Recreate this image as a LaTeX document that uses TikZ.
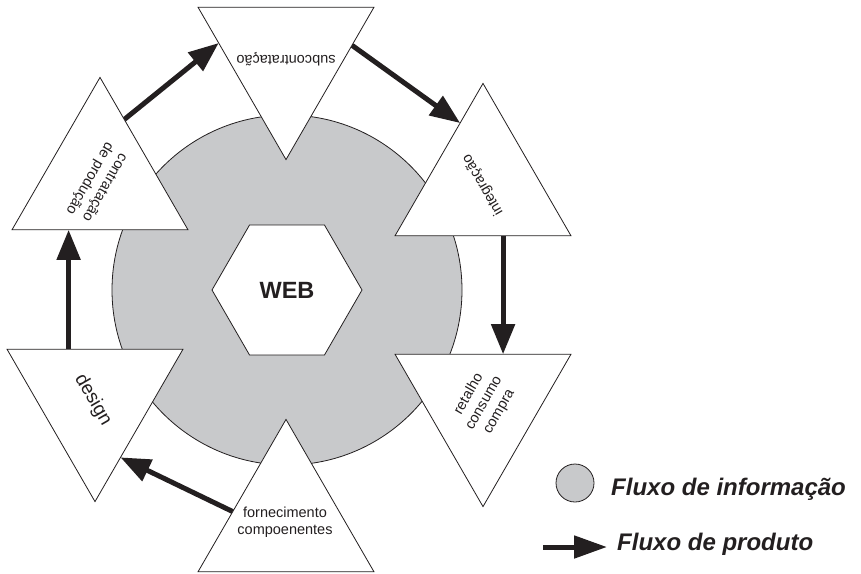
\documentclass[tikz,border=0pt]{standalone}
\usepackage{fontspec}
\setmainfont{Liberation Sans}
\usetikzlibrary{shapes.geometric,arrows.meta,calc,backgrounds}
\definecolor{ink}{RGB}{35,31,32}
\definecolor{infogray}{RGB}{200,201,203}
\begin{document}
\begin{tikzpicture}[x=1pt,y=1pt,
  tri/.style={regular polygon, regular polygon sides=3, minimum size=203.2pt,
    inner sep=0pt, outer sep=0pt, draw=ink, line width=0.8pt, fill=white},
  downtri/.style={tri, shape border rotate=180},
  lbl/.style={text=ink, font=\fontsize{14.5}{17.5}\selectfont, align=center, inner sep=0pt},
  flow/.style={draw=ink, line width=5pt, -{Triangle[length=30pt,width=23pt]}},
  legendtxt/.style={text=ink, font=\fontsize{24}{28}\selectfont\bfseries\itshape,
    anchor=base west, inner sep=0pt}
]
\useasboundingbox (0,0) rectangle (861,-573);

% information flow disc with the web hexagon
\node[circle, draw=ink, line width=0.8pt, fill=infogray, minimum size=350pt, inner sep=0pt] (info) at (287,-290) {};
\node[regular polygon, regular polygon sides=6, minimum size=150pt,
  inner sep=0pt, draw=ink, line width=0.8pt, fill=white, text=ink,
  font=\fontsize{23.5}{28}\selectfont\bfseries] (web) at (287,-290) {WEB};

% stages of the chain
\node[tri]     (t1) at (100,-179) {};
\node[downtri] (t2) at (286,-58)  {};
\node[tri]     (t3) at (483,-185) {};
\node[downtri] (t4) at (483,-405) {};
\node[downtri] (t5) at (95,-400)  {};
\node[tri]     (t6) at (286,-521) {};

\node[lbl, rotate=240] (l1) at (97,-183)  {contratação\\de produção};
\node[lbl, rotate=180] (l2) at (286,-59)  {subcontratação};
\node[lbl, rotate=120] (l3) at (483,-185) {integração};
\node[lbl, rotate=60]  (l4) at (484,-403) {retalho\\consumo\\compra};
\node[lbl, rotate=300, font=\fontsize{19}{22}\selectfont] (l5) at (93,-400) {design};
\node[lbl]             (l6) at (285,-522) {fornecimento\\compoenentes};

% attachment points of the product flow on the triangle sides
\coordinate (a1s) at ($(t1.corner 1)!0.276!(t1.corner 3)$);
\coordinate (a1e) at ($(t2.corner 3)!0.235!(t2.corner 1)$);
\coordinate (a2s) at ($(t2.corner 2)!0.25!(t2.corner 1)$);
\coordinate (a2e) at ($(t3.corner 1)!0.26!(t3.corner 2)$);
\coordinate (a3s) at ($(t3.corner 2)!0.614!(t3.corner 3)$);
\coordinate (a3e) at (a3s |- t4.corner 3);
\coordinate (a4s) at ($(t6.corner 1)!0.605!(t6.corner 2)$);
\coordinate (a4e) at ($(t5.corner 2)!0.71!(t5.corner 1)$);
\coordinate (a5s) at ($(t5.corner 3)!0.35!(t5.corner 2)$);
\coordinate (a5e) at (a5s |- t1.corner 2);

\begin{pgfonlayer}{background}
\draw[flow] (a1s) -- (a1e);
\draw[flow] (a2s) -- (a2e);
\draw[flow] (a3s) -- (a3e);
\draw[flow] (a4s) -- (a4e);
\draw[flow] (a5s) -- (a5e);
\end{pgfonlayer}

% legend
\node[circle, draw=ink, line width=0.8pt, fill=infogray, minimum size=38pt, inner sep=0pt] (legcirc) at (575,-483) {};
\node[legendtxt] (leginfo) at (611,-495) {Fluxo de informação};
\coordinate (lega) at (543,-547);
\coordinate (legb) at (607,-547);
\draw[draw=ink, line width=5pt, -{Triangle[length=33pt,width=22pt]}] (lega) -- (legb);
\node[legendtxt] (legprod) at (617,-550) {Fluxo de produto};
\end{tikzpicture}
\end{document}
